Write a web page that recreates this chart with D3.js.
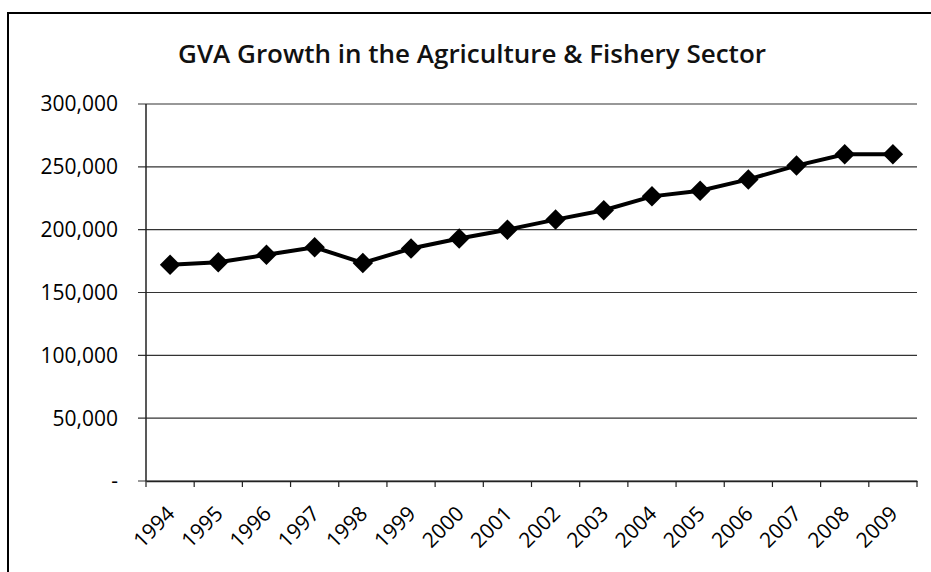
<!DOCTYPE html>
<html>
<head>
<meta charset="utf-8">
<style>
  body { margin: 0; background: #fff; }
  svg { display: block; font-family: "Open Sans", sans-serif; }
  .grid line { stroke: #333; stroke-width: 1.2; }
  .tick-lbl { font-size: 21px; fill: #000; }
</style>
</head>
<body>
<script src="https://d3js.org/d3.v7.min.js"></script>
<script>
// data (values in the same units as the axis)
var years = ["1994","1995","1996","1997","1998","1999","2000","2001",
             "2002","2003","2004","2005","2006","2007","2008","2009"];
var gva = [172000, 174000, 180000, 186000, 173500, 185000, 193000, 200000,
           208000, 215500, 226500, 231000, 240000, 251000, 260000, 260000];
var yTicks = [0, 50000, 100000, 150000, 200000, 250000, 300000];

var W = 931, H = 572;
var plot = {left: 146, right: 917, top: 104, bottom: 481};

var svg = d3.select("body").append("svg")
    .attr("width", W).attr("height", H);

// outer frame of the chart object
svg.append("rect")
    .attr("x", 8).attr("y", 13)
    .attr("width", 960).attr("height", 620)
    .attr("fill", "none").attr("stroke", "#000").attr("stroke-width", 2);

// title
svg.append("text")
    .attr("x", 472).attr("y", 63)
    .attr("text-anchor", "middle")
    .attr("font-size", 26).attr("font-weight", 600)
    .attr("fill", "#111")
    .text("GVA Growth in the Agriculture & Fishery Sector");

var x = d3.scaleBand()
    .domain(years)
    .range([plot.left, plot.right])
    .padding(0);

var y = d3.scaleLinear()
    .domain([0, 300000])
    .range([plot.bottom, plot.top]);

// horizontal gridlines (with the little tick stubs left of the axis)
svg.append("g").attr("class", "grid")
    .selectAll("line")
    .data(yTicks)
    .enter().append("line")
    .attr("x1", plot.left - 8)
    .attr("x2", plot.right)
    .attr("y1", function(d){ return y(d); })
    .attr("y2", function(d){ return y(d); });

// y axis line
svg.append("line")
    .attr("x1", plot.left).attr("x2", plot.left)
    .attr("y1", plot.top).attr("y2", plot.bottom)
    .attr("stroke", "#222").attr("stroke-width", 1.5);

// y labels, zero shown as a dash
var fmt = d3.format(",");
svg.append("g")
    .selectAll("text")
    .data(yTicks)
    .enter().append("text")
    .attr("class", "tick-lbl")
    .attr("x", 118)
    .attr("y", function(d){ return y(d); })
    .attr("dy", "0.35em")
    .attr("text-anchor", "end")
    .text(function(d){ return d === 0 ? "-" : fmt(d); });

// x axis: ticks at the category boundaries
var xAxis = svg.append("g")
    .attr("transform", "translate(0," + plot.bottom + ")")
    .call(d3.axisBottom(x).tickSize(0).tickFormat(""));
xAxis.select(".domain").attr("stroke", "#222").attr("stroke-width", 1.5);

var bounds = years.map(function(d){ return x(d); }).concat([plot.right]);
svg.append("g")
    .selectAll("line")
    .data(bounds)
    .enter().append("line")
    .attr("x1", function(d){ return d; })
    .attr("x2", function(d){ return d; })
    .attr("y1", plot.bottom)
    .attr("y2", plot.bottom + 6)
    .attr("stroke", "#222").attr("stroke-width", 1.2);

// rotated year labels
svg.append("g")
    .selectAll("text")
    .data(years)
    .enter().append("text")
    .attr("class", "tick-lbl")
    .attr("text-anchor", "end")
    .attr("transform", function(d){
        return "translate(" + (x(d) + x.bandwidth()/2 + 6) + "," + (plot.bottom + 34) + ") rotate(-45)";
    })
    .text(function(d){ return d; });

// series line
var line = d3.line()
    .x(function(d, i){ return x(years[i]) + x.bandwidth()/2; })
    .y(function(d){ return y(d); });

svg.append("path")
    .datum(gva)
    .attr("d", line)
    .attr("fill", "none")
    .attr("stroke", "#000")
    .attr("stroke-width", 4);

// diamond markers
var diamond = d3.symbol().type(d3.symbolSquare).size(210);
svg.append("g")
    .selectAll("path")
    .data(gva)
    .enter().append("path")
    .attr("d", diamond)
    .attr("transform", function(d, i){
        return "translate(" + (x(years[i]) + x.bandwidth()/2) + "," + y(d) + ") rotate(45)";
    })
    .attr("fill", "#000");
</script>
</body>
</html>
